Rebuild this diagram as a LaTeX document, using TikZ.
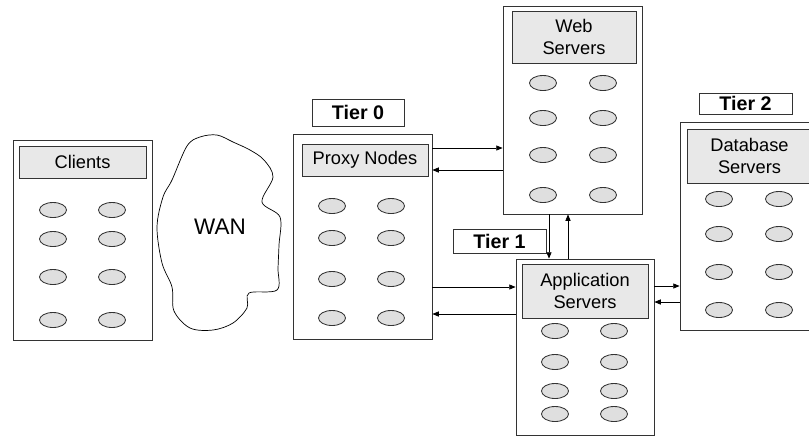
\documentclass[tikz,border=0pt]{standalone}
\usepackage{fontspec}
\setmainfont{Liberation Sans}
\usetikzlibrary{arrows.meta, shapes.geometric}
\def\px{0.025cm}

\begin{document}
\begin{tikzpicture}[x=\px, y=-\px, line width=0.6pt]
    \tikzstyle{tierbox}=[rectangle, draw=black!80, inner sep=0pt]
    \tikzstyle{namebox}=[rectangle, draw=black!80, fill=black!9, inner sep=0pt, align=center, font=\fontsize{13}{15.5}\selectfont]
    \tikzstyle{tierlabel}=[rectangle, draw=black!80, inner sep=0pt, font=\fontsize{14}{17}\selectfont\bfseries]
    \tikzstyle{host}=[ellipse, draw=black!80, fill=gray!25, minimum width=27*\px, minimum height=15*\px, inner sep=0pt]
    \tikzstyle{link}=[-{Triangle[length=4.5pt,width=3.6pt]}, line width=0.5pt]

    \useasboundingbox (0,0) rectangle (809,437);
    \clip (0,0) rectangle (809,437);

    % the tier boxes
    \node[tierbox, minimum width=139*\px, minimum height=200*\px] (clients) at (82.5,240) {};
    \node[tierbox, minimum width=139*\px, minimum height=205*\px] (proxy) at (362.5,236.5) {};
    \node[tierbox, minimum width=139*\px, minimum height=208*\px] (web) at (572.5,110) {};
    \node[tierbox, minimum width=138*\px, minimum height=176*\px] (app) at (585,347) {};
    \node[tierbox, minimum width=138*\px, minimum height=208*\px] (db) at (749,226) {};

    % names on top of each box
    \node[namebox, minimum width=127*\px, minimum height=32*\px] (clients-name) at (82.5,162) {Clients};
    \node[namebox, minimum width=126*\px, minimum height=32*\px] (proxy-name) at (365,160) {Proxy Nodes};
    \node[namebox, minimum width=124*\px, minimum height=52*\px] (web-name) at (574,37) {Web\\Servers};
    \node[namebox, minimum width=126*\px, minimum height=54*\px] (app-name) at (585,291) {Application\\Servers};
    \node[namebox, minimum width=125*\px, minimum height=54*\px] (db-name) at (749.5,156) {Database\\Servers};

    % tier labels
    \node[tierlabel, minimum width=92*\px, minimum height=27*\px] (tier0) at (358,112.5) {Tier 0};
    \node[tierlabel, minimum width=93*\px, minimum height=24*\px] (tier1) at (499.5,241) {Tier 1};
    \node[tierlabel, minimum width=93*\px, minimum height=21*\px] (tier2) at (745.5,103.5) {Tier 2};

    % the machines in each box
    \foreach \row [count=\r] in {210,239,277,320}
        \foreach \col [count=\c] in {53,112}
            \node[host] (clients-\r-\c) at (\col,\row) {};
    \foreach \row [count=\r] in {206,238,279,318}
        \foreach \col [count=\c] in {332,391}
            \node[host] (proxy-\r-\c) at (\col,\row) {};
    \foreach \row [count=\r] in {83,118,155,195}
        \foreach \col [count=\c] in {543,603}
            \node[host] (web-\r-\c) at (\col,\row) {};
    \foreach \row [count=\r] in {331,362,391,414}
        \foreach \col [count=\c] in {555,614}
            \node[host] (app-\r-\c) at (\col,\row) {};
    \foreach \row [count=\r] in {199,234,272,310}
        \foreach \col [count=\c] in {719,779}
            \node[host] (db-\r-\c) at (\col,\row) {};

    % the WAN cloud
    \draw[line width=0.5pt] plot[smooth cycle, tension=0.55] coordinates {
        (187,146) (200,137) (217,135) (233,142) (250,150) (264,160) (273,177)
        (262,202) (280,217) (279,245) (278,268) (277,290) (249,293)
        (247,308) (233,323) (213,330) (190,328) (174,311) (172,287)
        (162,263) (157,227) (163,197) (172,180)};
    \node[font=\fontsize{16}{19}\selectfont] (wan) at (220,227) {WAN};

    % heights and offsets of the links
    \coordinate (y1) at (0,148);
    \coordinate (y2) at (0,170);
    \coordinate (y3) at (0,287);
    \coordinate (y4) at (0,314);
    \coordinate (y5) at (0,286);
    \coordinate (y6) at (0,302);
    \coordinate (x1) at (549,0);
    \coordinate (x2) at (568,0);

    \draw[link] (proxy.east |- y1) -- (web.west |- y1);
    \draw[link] (web.west |- y2) -- (proxy.east |- y2);
    \draw[link] (proxy.east |- y3) -- (app.west |- y3);
    \draw[link] (app.west |- y4) -- (proxy.east |- y4);
    \draw[link] (web.south -| x1) -- (app.north -| x1);
    \draw[link] (app.north -| x2) -- (web.south -| x2);
    \draw[link] (app.east |- y5) -- (db.west |- y5);
    \draw[link] (db.west |- y6) -- (app.east |- y6);
\end{tikzpicture}
\end{document}
